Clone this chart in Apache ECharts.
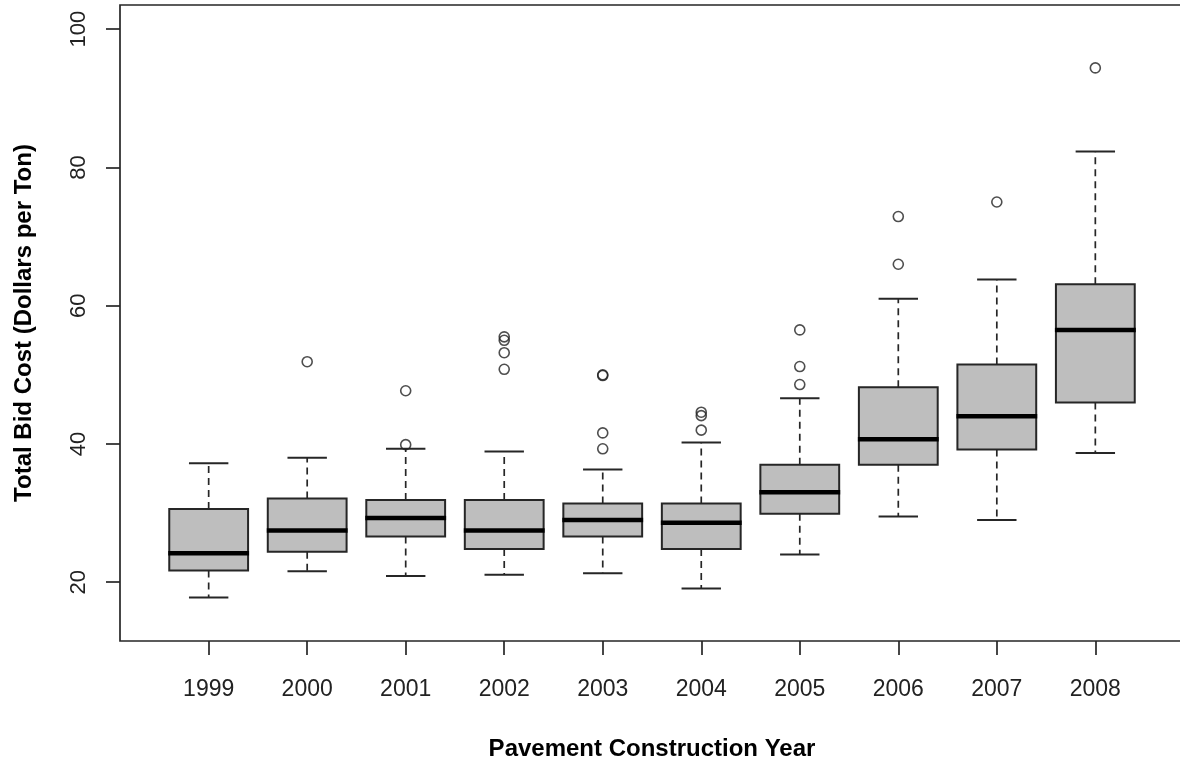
<!DOCTYPE html>
<html>
<head>
<meta charset="utf-8">
<script src="https://cdn.jsdelivr.net/npm/echarts@6/dist/echarts.min.js"></script>
<style>
html,body{margin:0;padding:0;background:#fff;}
#chart{width:1180px;height:761px;}
</style>
</head>
<body>
<div id="chart"></div>
<script>
// ---- data ----
var years = ['1999','2000','2001','2002','2003','2004','2005','2006','2007','2008'];
var lowerWhisker = [17.8, 21.6, 20.9, 21.1, 21.3, 19.1, 24.0, 29.5, 29.0, 38.7];
var q1 =           [21.7, 24.4, 26.6, 24.8, 26.6, 24.8, 29.9, 37.0, 39.2, 46.0];
var median =       [24.2, 27.5, 29.3, 27.5, 29.0, 28.6, 33.0, 40.7, 44.0, 56.5];
var q3 =           [30.6, 32.1, 31.9, 31.9, 31.4, 31.4, 37.0, 48.2, 51.5, 63.1];
var upperWhisker = [37.2, 38.0, 39.3, 38.9, 36.3, 40.2, 46.6, 61.0, 63.8, 82.3];
var outliers = [
  [],
  [51.9],
  [39.9, 47.7],
  [50.8, 53.2, 55.0, 55.5],
  [39.3, 41.6, 49.9, 50.0],
  [42.0, 44.1, 44.6],
  [48.6, 51.2, 56.5],
  [66.0, 72.9],
  [75.0],
  [94.4]
];
var yTicks = [20, 40, 60, 80, 100];
var xTicks = [1, 2, 3, 4, 5, 6, 7, 8, 9, 10];

// ---- build series data ----
var boxData = years.map(function (y, i) {
  return [i + 1, lowerWhisker[i], q1[i], median[i], q3[i], upperWhisker[i]];
});
var outlierData = [];
outliers.forEach(function (arr, i) {
  arr.forEach(function (v) { outlierData.push([i + 1, v]); });
});

var FONT = '"Liberation Sans", Arial, sans-serif';
var LINE = '#262626';

var chart = echarts.init(document.getElementById('chart'), null, {renderer: 'canvas'});

function renderBox(params, api) {
  var x = api.value(0);
  var lo = api.value(1), a = api.value(2), m = api.value(3), b = api.value(4), hi = api.value(5);
  var pLoL = api.coord([x - 0.2, lo]), pLoR = api.coord([x + 0.2, lo]);
  var pHiL = api.coord([x - 0.2, hi]), pHiR = api.coord([x + 0.2, hi]);
  var pC_lo = api.coord([x, lo]), pC_a = api.coord([x, a]), pC_b = api.coord([x, b]), pC_hi = api.coord([x, hi]);
  var bl = api.coord([x - 0.4, b]), br = api.coord([x + 0.4, a]);
  var ml = api.coord([x - 0.4, m]), mr = api.coord([x + 0.4, m]);
  var dashStyle = {stroke: LINE, lineWidth: 1.7, lineDash: [7, 5], fill: null};
  var solid = {stroke: LINE, lineWidth: 2, fill: null};
  return {
    type: 'group',
    children: [
      {type: 'line', shape: {x1: pC_b[0], y1: pC_b[1], x2: pC_hi[0], y2: pC_hi[1]}, style: dashStyle},
      {type: 'line', shape: {x1: pC_a[0], y1: pC_a[1], x2: pC_lo[0], y2: pC_lo[1]}, style: dashStyle},
      {type: 'line', shape: {x1: pHiL[0], y1: pHiL[1], x2: pHiR[0], y2: pHiR[1]}, style: solid},
      {type: 'line', shape: {x1: pLoL[0], y1: pLoL[1], x2: pLoR[0], y2: pLoR[1]}, style: solid},
      {type: 'rect', shape: {x: bl[0], y: bl[1], width: br[0] - bl[0], height: br[1] - bl[1]},
        style: {fill: '#bebebe', stroke: LINE, lineWidth: 2}},
      {type: 'line', shape: {x1: ml[0] - 1, y1: ml[1], x2: mr[0] + 1, y2: mr[1]},
        style: {stroke: '#000', lineWidth: 4.5}}
    ]
  };
}

var option = {
  backgroundColor: '#ffffff',
  animation: false,
  grid: {
    left: 120, top: 5, width: 1064, height: 636,
    outerBoundsMode: 'none',
    containLabel: false,
    show: true, borderColor: LINE, borderWidth: 1.7, backgroundColor: 'transparent'
  },
  xAxis: {
    type: 'value',
    min: 0.1, max: 10.9,
    name: 'Pavement Construction Year',
    nameLocation: 'middle',
    nameGap: 96,
    nameTextStyle: {fontFamily: FONT, fontSize: 24, fontWeight: 'bold', color: '#000'},
    splitLine: {show: false},
    axisLine: {show: false},
    axisTick: {show: true, length: 14, customValues: xTicks, lineStyle: {color: LINE, width: 1.7}},
    axisLabel: {
      customValues: xTicks,
      margin: 37,
      fontFamily: FONT, fontSize: 23, color: '#222',
      formatter: function (v) { return years[Math.round(v) - 1]; }
    }
  },
  yAxis: {
    type: 'value',
    min: 11.5, max: 103.5,
    name: 'Total Bid Cost (Dollars per Ton)',
    nameLocation: 'middle',
    nameRotate: 90,
    nameGap: 84,
    nameTextStyle: {fontFamily: FONT, fontSize: 24, fontWeight: 'bold', color: '#000'},
    splitLine: {show: false},
    axisLine: {show: false},
    axisTick: {show: true, length: 14, customValues: yTicks, lineStyle: {color: LINE, width: 1.7}},
    axisLabel: {
      customValues: yTicks,
      rotate: 90,
      margin: 30,
      fontFamily: FONT, fontSize: 22, color: '#222'
    }
  },
  series: [
    {
      type: 'custom',
      renderItem: renderBox,
      data: boxData,
      encode: {x: 0, y: [1, 2, 3, 4, 5]},
      clip: false,
      z: 2
    },
    {
      type: 'scatter',
      data: outlierData,
      symbol: 'circle',
      symbolSize: 10,
      itemStyle: {color: 'rgba(0,0,0,0)', borderColor: '#222', borderWidth: 1.6},
      z: 3
    }
  ]
};
chart.setOption(option);
</script>
</body>
</html>
